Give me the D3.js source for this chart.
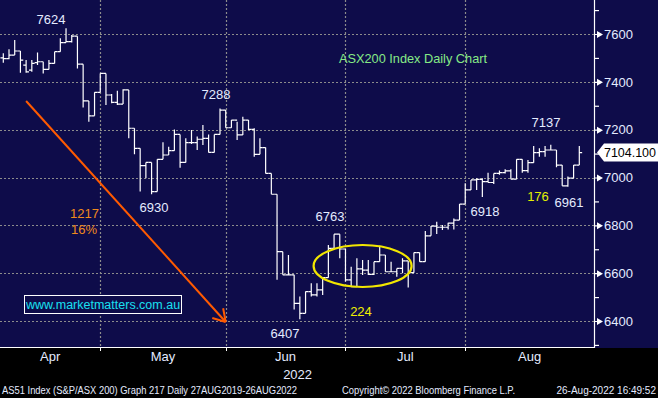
<!DOCTYPE html>
<html>
<head>
<meta charset="utf-8">
<script src="https://cdn.jsdelivr.net/npm/d3@7"></script>
<style>
  html, body { margin: 0; padding: 0; background: #000; }
  svg { display: block; font-family: "Liberation Sans", Arial, sans-serif; }
</style>
</head>
<body>
<script>
// trading days, Apr 1 .. Aug 26 2022 (ASX)
const dates = [
  '2022-04-01','2022-04-04','2022-04-05','2022-04-06','2022-04-07','2022-04-08','2022-04-11','2022-04-12','2022-04-13','2022-04-14',
  '2022-04-19','2022-04-20','2022-04-21','2022-04-22','2022-04-26','2022-04-27','2022-04-28','2022-04-29',
  '2022-05-02','2022-05-03','2022-05-04','2022-05-05','2022-05-06','2022-05-09','2022-05-10','2022-05-11','2022-05-12','2022-05-13',
  '2022-05-16','2022-05-17','2022-05-18','2022-05-19','2022-05-20','2022-05-23','2022-05-24','2022-05-25','2022-05-26','2022-05-27',
  '2022-05-30','2022-05-31',
  '2022-06-01','2022-06-02','2022-06-03','2022-06-06','2022-06-07','2022-06-08','2022-06-09','2022-06-10','2022-06-14','2022-06-15',
  '2022-06-16','2022-06-17','2022-06-20','2022-06-21','2022-06-22','2022-06-23','2022-06-24','2022-06-27','2022-06-28','2022-06-29',
  '2022-06-30',
  '2022-07-01','2022-07-04','2022-07-05','2022-07-06','2022-07-07','2022-07-08','2022-07-11','2022-07-12','2022-07-13','2022-07-14',
  '2022-07-15','2022-07-18','2022-07-19','2022-07-20','2022-07-21','2022-07-22','2022-07-25','2022-07-26','2022-07-27','2022-07-28',
  '2022-07-29',
  '2022-08-01','2022-08-02','2022-08-03','2022-08-04','2022-08-05','2022-08-08','2022-08-09','2022-08-10','2022-08-11','2022-08-12',
  '2022-08-15','2022-08-16','2022-08-17','2022-08-18','2022-08-19','2022-08-22','2022-08-23','2022-08-24','2022-08-25','2022-08-26'
]

const open = [
  7500,7497,7512,7529,7470,7449,7480,7484,7452,7477,7526,7564,7568,7591,7474,7320,7258,7356,
  7435,7345,7314,7307,7366,7206,7122,7050,7063,6941,7076,7094,7112,7180,7063,7146,7146,7160,7164,7105,7180,7282,
  7208,7240,7178,7240,7201,7097,7125,7017,6930,6690,6593,6593,6474,6432,6523,6509,6530,6581,6704,6763,6701,
  6572,6544,6618,6613,6595,6648,6676,6606,6606,6620,6651,6602,6686,6648,6756,6797,6792,6792,6809,6822,6889,
  6948,6990,6992,6983,6979,7017,7020,7028,6993,7076,7029,7062,7104,7108,7115,7115,7052,6965,6997,7052
]
const high = [
  7519,7536,7575,7529,7491,7491,7523,7484,7491,7526,7582,7624,7596,7591,7474,7320,7356,7435,
  7435,7349,7363,7369,7366,7206,7122,7063,7063,7076,7147,7129,7201,7180,7164,7199,7171,7220,7180,7180,7288,7282,
  7240,7233,7254,7240,7206,7164,7125,7017,6930,6690,6676,6593,6502,6523,6558,6558,6581,6718,6763,6763,6701,
  6627,6662,6655,6655,6648,6715,6676,6648,6620,6662,6651,6686,6686,6776,6797,6815,6801,6811,6829,6889,6976,
  6990,6997,6997,7020,7017,7029,7034,7034,7076,7076,7073,7132,7122,7132,7137,7115,7052,7004,7052,7132
]
const low = [
  7480,7494,7512,7438,7438,7442,7470,7435,7452,7477,7526,7564,7564,7456,7293,7233,7258,7356,
  7303,7310,7303,7307,7164,7097,6941,6997,6930,6941,7076,7094,7112,7041,7063,7140,7115,7136,7105,7105,7180,7208,
  7208,7157,7178,7199,7087,7097,7017,6930,6572,6593,6593,6448,6407,6432,6502,6502,6509,6581,6704,6662,6565,
  6544,6544,6592,6592,6592,6648,6606,6606,6585,6600,6540,6602,6648,6648,6756,6764,6781,6783,6783,6822,6889,
  6948,6948,6918,6979,6973,7011,7017,6993,6993,7020,7020,7062,7087,7087,7115,7043,6965,6961,6997,7052
]
const close = [
  7497,7512,7529,7491,7442,7477,7484,7452,7477,7526,7564,7568,7591,7474,7320,7258,7356,7435,
  7345,7314,7307,7366,7206,7122,7050,7063,6941,7076,7094,7112,7180,7063,7146,7146,7160,7164,7105,7180,7282,7208,
  7240,7178,7240,7201,7097,7125,7017,6930,6690,6593,6593,6474,6432,6523,6509,6530,6581,6704,6763,6701,6572,
  6544,6618,6613,6595,6648,6676,6606,6606,6620,6651,6602,6686,6648,6756,6797,6792,6792,6809,6822,6889,6948,
  6990,6992,6983,6979,7017,7020,7028,6993,7076,7029,7062,7104,7108,7115,7115,7052,6965,6997,7052,7104.1
]

const months = ['Apr', 'May', 'Jun', 'Jul', 'Aug']
const yTicks = [6400, 6600, 6800, 7000, 7200, 7400, 7600]
const yMinor = [6300, 6500, 6700, 6900, 7100, 7300, 7500, 7700]
const lastPrice = '7104.100'
const title = 'ASX200 Index Daily Chart'
const footer = ['AS51 Index (S&P/ASX 200) Graph 217  Daily 27AUG2019-26AUG2022',
                'Copyright\u00A9 2022 Bloomberg Finance L.P.', '26-Aug-2022 16:49:52']

const W = 658, H = 398
const plotR = 594, plotB = 348
const navy = '#0e0c4a'
const txt = '#e4ebff'

const svg = d3.select('body').append('svg')
  .attr('width', W).attr('height', H)

svg.append('rect').attr('width', W).attr('height', H).attr('fill', '#000')
svg.append('rect').attr('width', W).attr('height', plotB).attr('fill', navy)

const x = d3.scalePoint().domain(dates).range([3.3, 579.3])
const y = d3.scaleLinear().domain([6400, 7600]).range([321, 34])
const half = x.step() / 2

// month end bars carry the vertical grid
const monthEnds = dates.filter((d, i) => i < dates.length - 1 && d.slice(5, 7) !== dates[i + 1].slice(5, 7))

const grid = svg.append('g')
  .attr('stroke', '#8c8c8c').attr('stroke-width', 1.2).attr('stroke-dasharray', '2,2')
grid.selectAll('.h').data(yTicks).join('line')
  .attr('x1', 0).attr('x2', plotR)
  .attr('y1', d => Math.round(y(d)) + 0.5).attr('y2', d => Math.round(y(d)) + 0.5)
grid.selectAll('.v').data(monthEnds).join('line')
  .attr('x1', d => Math.round(x(d)) + 0.5).attr('x2', d => Math.round(x(d)) + 0.5)
  .attr('y1', 0).attr('y2', plotB)

svg.append('defs').append('clipPath').attr('id', 'plot')
  .append('rect').attr('width', plotR).attr('height', plotB)

// ohlc bars
const bars = svg.append('g').attr('clip-path', 'url(#plot)')
  .attr('stroke', '#fff').attr('stroke-width', 1.2).attr('fill', 'none')
  .selectAll('path').data(dates).join('path')
  .attr('d', (d, i) => {
    const cx = x(d)
    return 'M' + cx + ',' + y(high[i]) + 'V' + y(low[i]) +
      'M' + (cx - half) + ',' + y(open[i]) + 'H' + cx +
      'M' + cx + ',' + y(close[i]) + 'H' + (cx + half)
  })

// yellow ellipse round the June/July range
svg.append('ellipse')
  .attr('cx', x(dates[63])).attr('cy', y(6630))
  .attr('rx', 49).attr('ry', 21)
  .attr('fill', 'none').attr('stroke', '#f2e600').attr('stroke-width', 2.2)

// orange arrow, April high to June low
const ax1 = x(dates[4]), ay1 = y(7320), ax2 = x('2022-05-31'), ay2 = y(6396)
const ang = Math.atan2(ay2 - ay1, ax2 - ax1)
const arrow = svg.append('g').attr('stroke', '#ff5a00').attr('stroke-width', 2).attr('fill', 'none')
arrow.append('line').attr('x1', ax1).attr('y1', ay1).attr('x2', ax2).attr('y2', ay2)
arrow.append('path').attr('d', [-0.55, 0.55].map(a =>
  'M' + (ax2 - 14 * Math.cos(ang + a)) + ',' + (ay2 - 14 * Math.sin(ang + a)) + 'L' + ax2 + ',' + ay2).join(''))

// right axis
svg.append('line').attr('x1', plotR + 0.5).attr('x2', plotR + 0.5).attr('y1', 0).attr('y2', plotB)
  .attr('stroke', '#fff').attr('stroke-width', 1.2)
svg.append('line').attr('x1', 0).attr('x2', plotR).attr('y1', plotB - 0.5).attr('y2', plotB - 0.5)
  .attr('stroke', '#fff').attr('stroke-width', 1.2)

const yAxis = svg.append('g').attr('transform', 'translate(' + plotR + ',0)')
  .call(d3.axisRight(y).tickValues(yTicks).tickSize(0).tickPadding(10).tickFormat(d3.format('d')))
yAxis.select('.domain').remove()
yAxis.selectAll('text').attr('fill', txt).attr('font-size', 13)
  .attr('font-family', '"Liberation Sans", Arial, sans-serif')
yAxis.selectAll('.tick').append('path').attr('d', 'M0,-0.6H3L3,-3.5L9,0L3,3.5L3,0.6H0Z').attr('fill', '#fff')

const yMinorAxis = svg.append('g').attr('transform', 'translate(' + plotR + ',0)')
  .call(d3.axisRight(y).tickValues(yMinor).tickSize(5).tickFormat(''))
yMinorAxis.select('.domain').remove()
yMinorAxis.selectAll('line').attr('stroke', '#fff').attr('stroke-width', 1.2)

// last price tag
const ly = y(close[close.length - 1])
svg.append('path')
  .attr('d', 'M597,' + ly + 'L604,' + (ly - 9) + 'H658V' + (ly + 9) + 'H604Z')
  .attr('fill', '#fff')
svg.append('text').attr('x', 604).attr('y', ly + 4.5).attr('font-size', 13).attr('fill', '#000')
  .attr('textLength', 52).attr('lengthAdjust', 'spacingAndGlyphs').text(lastPrice)

// bottom axis ticks and month labels
svg.append('g').selectAll('line').data(monthEnds).join('line')
  .attr('x1', d => Math.round(x(d)) + 0.5).attr('x2', d => Math.round(x(d)) + 0.5)
  .attr('y1', plotB).attr('y2', plotB + 3).attr('stroke', '#fff')
const bounds = [0].concat(monthEnds.map(d => x(d))).concat([plotR])
svg.append('g').selectAll('text').data(months).join('text')
  .attr('x', (d, i) => (bounds[i] + bounds[i + 1]) / 2)
  .attr('y', 361).attr('text-anchor', 'middle').attr('font-size', 13).attr('fill', txt)
  .text(d => d)
svg.append('text').attr('x', (bounds[2] + bounds[3]) / 2 + 12).attr('y', 379)
  .attr('text-anchor', 'middle').attr('font-size', 13).attr('fill', txt).text('2022')

// chart annotations
const notes = [
  { t: '7624', x: 51, y: 24, c: txt },
  { t: '7288', x: 216, y: 99, c: txt },
  { t: '6930', x: 154, y: 212, c: txt },
  { t: '6763', x: 330, y: 221, c: txt },
  { t: '6407', x: 285, y: 338, c: txt },
  { t: '224', x: 361, y: 316, c: '#f0f000' },
  { t: '6918', x: 485, y: 216, c: txt },
  { t: '176', x: 538, y: 201, c: '#e4f000' },
  { t: '6961', x: 569, y: 207, c: txt },
  { t: '7137', x: 546, y: 127, c: txt }
]
svg.append('g').selectAll('text').data(notes).join('text')
  .attr('x', d => d.x).attr('y', d => d.y).attr('text-anchor', 'middle')
  .attr('font-size', 13).attr('fill', d => d.c).text(d => d.t)

svg.append('text').attr('x', 339).attr('y', 63).attr('font-size', 13).attr('fill', '#86ea86')
  .attr('textLength', 148).attr('lengthAdjust', 'spacingAndGlyphs').text(title)

svg.append('text').attr('x', 99).attr('y', 218).attr('text-anchor', 'end')
  .attr('font-size', 13).attr('fill', '#f08a1c').text('1217')
svg.append('text').attr('x', 97).attr('y', 234).attr('text-anchor', 'end')
  .attr('font-size', 13).attr('fill', '#f08a1c').text('16%')

svg.append('rect').attr('x', 24.5).attr('y', 295.5).attr('width', 157).attr('height', 18)
  .attr('fill', navy).attr('stroke', '#fff').attr('stroke-width', 1)
svg.append('text').attr('x', 103).attr('y', 309).attr('text-anchor', 'middle')
  .attr('font-size', 12.5).attr('fill', '#19e0f0').text('www.marketmatters.com.au')

// footer
const foot = svg.append('g').attr('font-size', 10).attr('fill', txt)
  .attr('lengthAdjust', 'spacingAndGlyphs')
foot.append('text').attr('x', 2).attr('y', 394).attr('textLength', 295)
  .attr('lengthAdjust', 'spacingAndGlyphs').text(footer[0])
foot.append('text').attr('x', 342).attr('y', 394).attr('textLength', 173)
  .attr('lengthAdjust', 'spacingAndGlyphs').text(footer[1])
foot.append('text').attr('x', 656).attr('y', 394).attr('text-anchor', 'end').text(footer[2])
</script>
</body>
</html>
